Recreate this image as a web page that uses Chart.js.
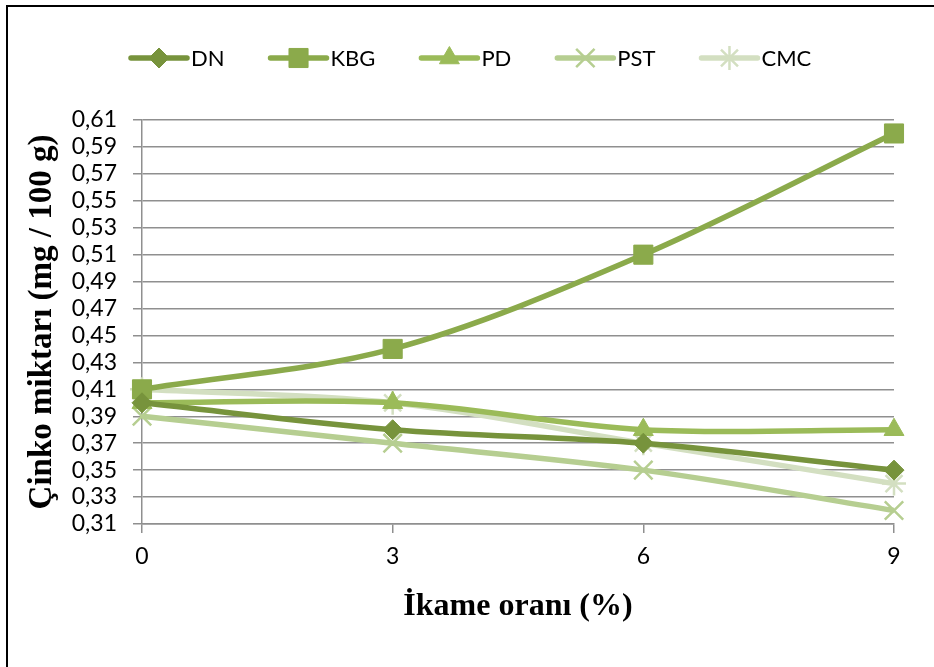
<!DOCTYPE html>
<html>
<head>
<meta charset="utf-8">
<script src="https://cdn.jsdelivr.net/npm/chart.js@4.4.1/dist/chart.umd.min.js"></script>
<style>
  body { margin: 0; background: #fff; }
  #wrap { position: relative; width: 934px; height: 667px; overflow: hidden; }
  #frame { position: absolute; left: 6px; top: 5px; right: -4px; bottom: -4px; border-left: 2px solid #000; border-top: 2px solid #000; pointer-events: none; }
</style>
</head>
<body>
<div id="wrap">
  <canvas id="chart" width="934" height="667"></canvas>
  <div id="frame"></div>
</div>
<script>
// Veriler
const categories = ['0', '3', '6', '9'];
const seriesNames = ['DN', 'KBG', 'PD', 'PST', 'CMC'];
const dnValues = [0.40, 0.38, 0.37, 0.35];
const kbgValues = [0.41, 0.44, 0.51, 0.60];
const pdValues = [0.40, 0.40, 0.38, 0.38];
const pstValues = [0.39, 0.37, 0.35, 0.32];
const cmcValues = [0.41, 0.40, 0.37, 0.34];
const yTicks = [0.31, 0.33, 0.35, 0.37, 0.39, 0.41, 0.43, 0.45, 0.47, 0.49, 0.51, 0.53, 0.55, 0.57, 0.59, 0.61];

const colors = ['#77933C', '#8BAA4B', '#9BBB59', '#B6CE91', '#D3DFC1'];
const markers = [
    { style: 'rectRot', radius: 10, border: 1 },
    { style: 'rect', radius: 13.5, border: 1 },
    { style: 'triangle', radius: 11.5, border: 1 },
    { style: 'crossRot', radius: 13, border: 2.5 },
    { style: 'star', radius: 12, border: 2.5 }
];
const allValues = [dnValues, kbgValues, pdValues, pstValues, cmcValues];
const gridColor = '#8f8f8f';

const datasets = seriesNames.map((name, i) => ({
    label: name,
    data: allValues[i],
    borderColor: colors[i],
    backgroundColor: colors[i],
    borderWidth: 5.5,
    tension: 0.33,
    pointStyle: markers[i].style,
    pointRadius: markers[i].radius,
    pointBorderWidth: markers[i].border,
    pointBackgroundColor: colors[i],
    pointBorderColor: colors[i]
}));

// Légende dessinée à la main : ligne + marqueur comme dans Excel
const lineLegend = {
    id: 'lineLegend',
    afterDraw(chart) {
        const ctx = chart.ctx;
        let x = 131;
        const y = 58;
        ctx.save();
        ctx.font = '22px Lato';
        ctx.textBaseline = 'middle';
        chart.data.datasets.forEach((ds, i) => {
            ctx.strokeStyle = ds.borderColor;
            ctx.fillStyle = ds.borderColor;
            ctx.lineWidth = 5.5;
            ctx.lineCap = 'round';
            ctx.beginPath();
            ctx.moveTo(x, y);
            ctx.lineTo(x + 56, y);
            ctx.stroke();
            ctx.lineCap = 'butt';
            ctx.lineWidth = markers[i].border;
            Chart.helpers.drawPoint(ctx, {
                pointStyle: markers[i].style,
                radius: markers[i].radius,
                borderWidth: markers[i].border,
                rotation: 0
            }, x + 28, y);
            ctx.fillStyle = '#000';
            ctx.fillText(ds.label, x + 60, y + 1);
            x += 60 + ctx.measureText(ds.label).width + 46;
        });
        ctx.restore();
    }
};

const ctx = document.getElementById('chart').getContext('2d');
new Chart(ctx, {
    type: 'line',
    data: { labels: categories, datasets: datasets },
    options: {
        responsive: false,
        animation: false,
        layout: { padding: { top: 120, right: 40, bottom: 0, left: 10 } },
        plugins: { legend: { display: false }, tooltip: { enabled: false } },
        scales: {
            x: {
                type: 'category',
                offset: false,
                afterFit: (scale) => { scale.height = 143; },
                grid: { drawOnChartArea: false, drawTicks: true, tickLength: 9, color: gridColor, lineWidth: 1.5 },
                border: { color: gridColor, width: 1.5 },
                ticks: { color: '#000', font: { family: 'Lato', size: 23 }, padding: 10, maxRotation: 0, autoSkip: false },
                title: {
                    display: true,
                    text: 'İkame oranı (%)',
                    color: '#000',
                    font: { family: 'Liberation Serif', size: 32, weight: 'bold' },
                    padding: { top: 0, bottom: 41 }
                }
            },
            y: {
                min: 0.31,
                max: 0.61,
                afterBuildTicks: (scale) => { scale.ticks = yTicks.map(v => ({ value: v })); },
                afterFit: (scale) => { scale.width = 132; },
                grid: { drawTicks: true, tickLength: 9, color: gridColor, lineWidth: 1.5 },
                border: { color: gridColor, width: 1.5 },
                ticks: {
                    color: '#000',
                    font: { family: 'Lato', size: 23 },
                    padding: 16,
                    autoSkip: false,
                    callback: (v) => Number(v).toFixed(2).replace('.', ',')
                },
                title: {
                    display: true,
                    text: 'Çinko miktarı (mg / 100 g)',
                    color: '#000',
                    font: { family: 'Liberation Serif', size: 33, weight: 'bold' },
                    padding: { top: 13, bottom: 0 }
                }
            }
        }
    },
    plugins: [lineLegend]
});
</script>
</body>
</html>
